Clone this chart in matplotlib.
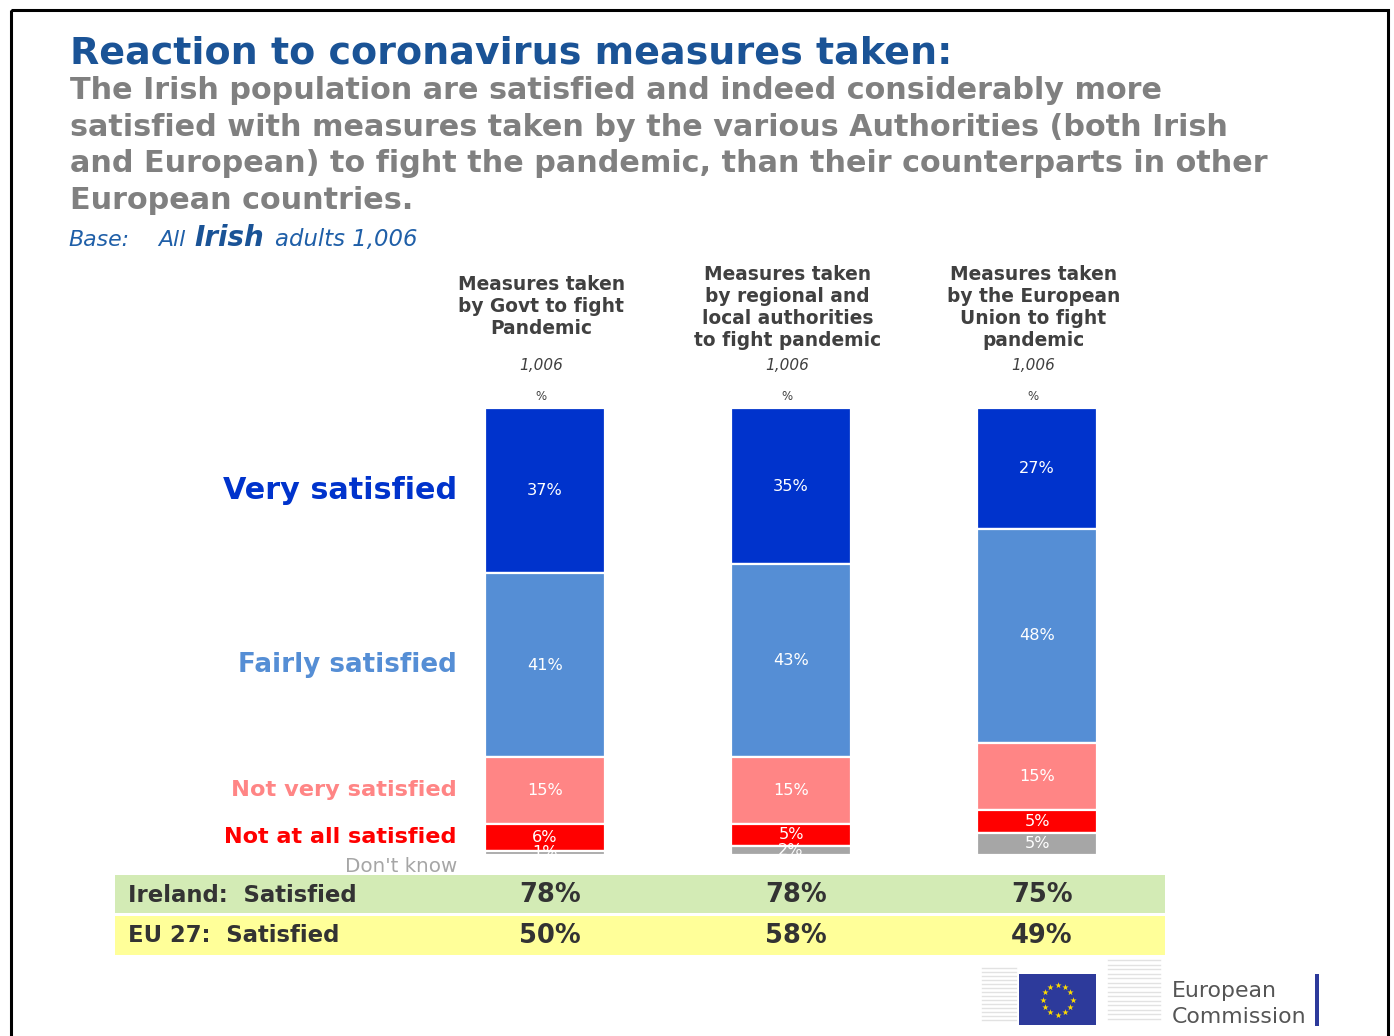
import matplotlib.pyplot as plt
import numpy as np
from matplotlib import transforms
from matplotlib.patches import Rectangle

# data
columns = [
    "Measures taken\nby Govt to fight\nPandemic",
    "Measures taken\nby regional and\nlocal authorities\nto fight pandemic",
    "Measures taken\nby the European\nUnion to fight\npandemic",
]
bases = ["1,006", "1,006", "1,006"]
categories = ["Very satisfied", "Fairly satisfied", "Not very satisfied",
              "Not at all satisfied", "Don't know"]
very_satisfied = [37, 35, 27]
fairly_satisfied = [41, 43, 48]
not_very_satisfied = [15, 15, 15]
not_at_all_satisfied = [6, 5, 5]
dont_know = [1, 2, 5]
ireland_satisfied = [78, 78, 75]
eu27_satisfied = [50, 58, 49]

colors = ["#0033CC", "#558ED5", "#FF8585", "#FF0000", "#A6A6A6"]
label_sizes = [21.8, 18.8, 16.2, 16.1, 14.3]
label_weights = ["bold", "bold", "bold", "bold", "normal"]

W, H = 1394, 1036
fig = plt.figure(figsize=(W / 100, H / 100), dpi=100)

# background axes in pixel units for text and decoration
bg = fig.add_axes([0, 0, 1, 1])
bg.set_xlim(0, W)
bg.set_ylim(H, 0)
bg.axis("off")

bg.add_patch(Rectangle((11, 10), 1377, 1040, fill=False, edgecolor="black", lw=2.2))

bg.text(70, 63, "Reaction to coronavirus measures taken:", fontsize=27.4,
        fontweight="bold", color="#1A5396", va="baseline")
subtitle = ["The Irish population are satisfied and indeed considerably more",
            "satisfied with measures taken by the various Authorities (both Irish",
            "and European) to fight the pandemic, than their counterparts in other",
            "European countries."]
for i, line in enumerate(subtitle):
    bg.text(70, 99 + i * 36.7, line, fontsize=21.8, fontweight="bold",
            color="#808080", va="baseline")

base_blue = "#1F5FA8"
bg.text(68, 246, "Base:", fontsize=15.8, style="italic", color=base_blue, va="baseline")
bg.text(158, 246, "All", fontsize=15.8, style="italic", color=base_blue, va="baseline")
bg.text(194, 246, "Irish", fontsize=20, style="italic", fontweight="bold",
        color="#1A5396", va="baseline")
bg.text(275, 246, "adults 1,006", fontsize=16.4, style="italic", color=base_blue,
        va="baseline")

# bar axes
ax = fig.add_axes([115 / W, 1 - 855 / H, 1050 / W, 447 / H])
ax.set_xlim(-430 / 246, 620 / 246)
ax.set_ylim(100, 0)
ax.axis("off")

x = np.arange(len(columns))
series = [very_satisfied, fairly_satisfied, not_very_satisfied,
          not_at_all_satisfied, dont_know]
bottom = np.zeros(len(columns))
mids = []
for vals, c in zip(series, colors):
    vals = np.array(vals, dtype=float)
    ax.bar(x, vals, bottom=bottom, width=120 / 246, color=c,
           edgecolor="white", linewidth=1.6)
    mids.append(bottom + vals / 2)
    bottom = bottom + vals

for vals, m in zip(series, mids):
    for xi, v, yi in zip(x, vals, m):
        ax.text(xi, yi, f"{v}%", ha="center", va="center", color="white",
                fontsize=11.6, zorder=5, clip_on=False)

# left category labels
lab_tr = transforms.blended_transform_factory(bg.transData, ax.transData)
for i, (cat, c) in enumerate(zip(categories[:4], colors[:4])):
    bg.text(457, mids[i][0], cat, transform=lab_tr, ha="right", va="center",
            color=c, fontsize=label_sizes[i], fontweight=label_weights[i])
bg.text(457, 867, categories[4], ha="right", va="center", color=colors[4],
        fontsize=label_sizes[4], fontweight=label_weights[4])

# column headers
hdr_tr = transforms.blended_transform_factory(ax.transData, bg.transData)
for xi, col, b in zip(x, columns, bases):
    bg.text(xi - 0.015, 307, col, transform=hdr_tr, ha="center", va="center",
            fontsize=13.4, fontweight="bold", color="#404040", linespacing=1.2)
    bg.text(xi - 0.015, 366, b, transform=hdr_tr, ha="center", va="center",
            fontsize=11, style="italic", color="#404040")
    bg.text(xi - 0.015, 396, "%", transform=hdr_tr, ha="center", va="center",
            fontsize=8.5, color="#404040")

# summary bands
bg.add_patch(Rectangle((115, 875), 1050, 38, color="#D3EBB5", lw=0))
bg.add_patch(Rectangle((115, 916), 1050, 39, color="#FFFF99", lw=0))
bg.text(128, 895, "Ireland:  Satisfied", fontsize=16.4, fontweight="bold",
        color="#333333", va="center")
bg.text(128, 936, "EU 27:  Satisfied", fontsize=16.4, fontweight="bold",
        color="#333333", va="center")
for xi, a, b in zip(x, ireland_satisfied, eu27_satisfied):
    bg.text(xi + 0.02, 895, f"{a}%", transform=hdr_tr, ha="center", va="center",
            fontsize=18.5, fontweight="bold", color="#333333")
    bg.text(xi + 0.02, 936, f"{b}%", transform=hdr_tr, ha="center", va="center",
            fontsize=18.5, fontweight="bold", color="#333333")

# European Commission logo
for k in range(14):
    bg.plot([982, 1016], [968 + k * 4, 968 + k * 4], color="#E2E2E2", lw=1)
    bg.plot([1108, 1160], [960 + k * 4.5, 960 + k * 4.5], color="#E2E2E2", lw=1)
bg.add_patch(Rectangle((1019, 974), 77, 51, color="#2D3A9B", lw=0))
ang = np.linspace(0, 2 * np.pi, 13)[:-1]
bg.scatter(1057.5 + 15 * np.cos(ang), 999.5 + 15 * np.sin(ang), marker="*",
           s=22, color="#FFDD00", lw=0)
bg.text(1172, 991, "European", fontsize=15.8, color="#555555", va="center")
bg.text(1172, 1017, "Commission", fontsize=15.8, color="#555555", va="center")
bg.add_patch(Rectangle((1315, 974), 4, 52, color="#2D3A9B", lw=0))

fig.savefig("out.png", dpi=100)
